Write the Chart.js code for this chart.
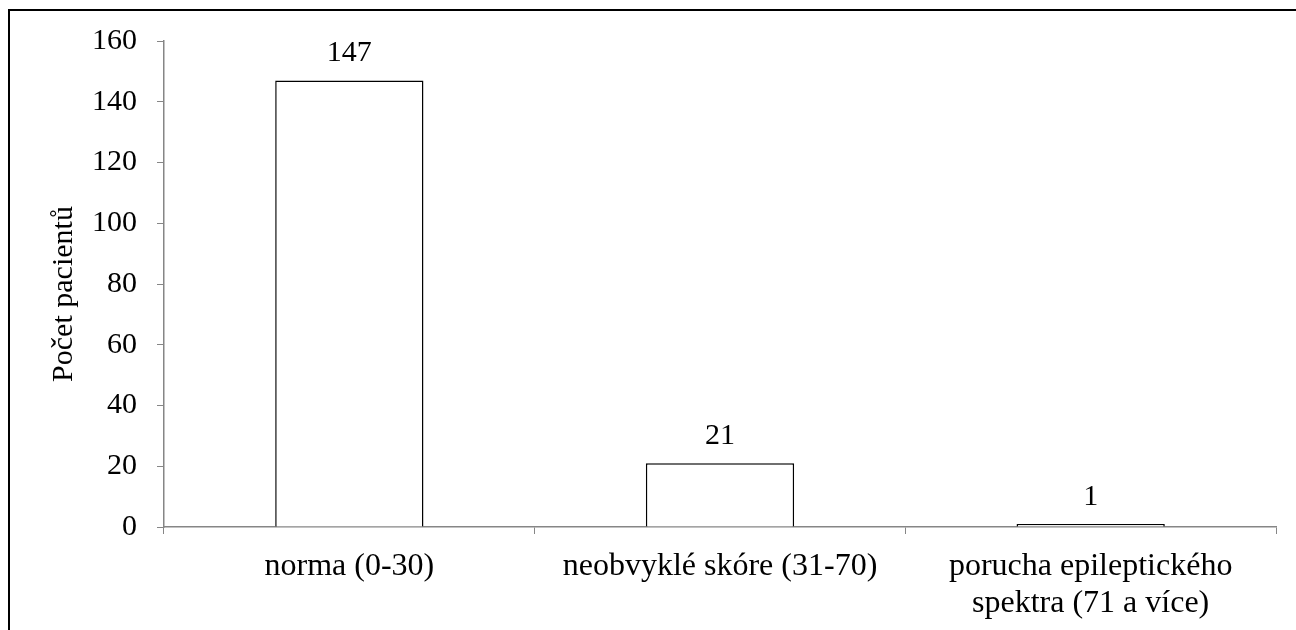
<!DOCTYPE html>
<html>
<head>
<meta charset="utf-8">
<script src="https://cdn.jsdelivr.net/npm/chart.js@4"></script>
<style>
  html, body { margin: 0; padding: 0; background: #fff; overflow: hidden; }
  #frame { position: absolute; left: 8px; top: 9px; width: 2000px; height: 2000px; border: 2px solid #000; }
  #wrap { position: absolute; left: 0; top: 0; width: 1296px; height: 630px; }
</style>
</head>
<body>
<div id="frame"></div>
<div id="wrap"><canvas id="myChart" width="1296" height="630"></canvas></div>
<script>
// categories and values
var categories = [
	'norma (0-30)',
	'neobvyklé skóre (31-70)',
	['porucha epileptického', 'spektra (71 a více)']
];
var pacienti = [147, 21, 1];
var yTicks = [0, 20, 40, 60, 80, 100, 120, 140, 160];
var yTitle = 'Počet pacientů';

var serif = '"Liberation Serif", "Times New Roman", serif';
var axisGray = '#868686';

// value labels above bars + y title (a bit below centre, like the original)
var extras = {
	id: 'extras',
	afterDatasetsDraw: function(chart) {
		var ctx = chart.ctx;
		var meta = chart.getDatasetMeta(0);
		ctx.save();
		ctx.font = '30px ' + serif;
		ctx.fillStyle = '#000';
		ctx.textAlign = 'center';
		ctx.textBaseline = 'alphabetic';
		meta.data.forEach(function(bar, i) {
			ctx.fillText(String(pacienti[i]), bar.x, bar.y - 19);
		});
		var a = chart.chartArea;
		ctx.translate(64, (a.top + a.bottom) / 2 + 10);
		ctx.rotate(-Math.PI / 2);
		ctx.textBaseline = 'middle';
		ctx.fillText(yTitle, 0, 0);
		ctx.restore();
	}
};

var ctx = document.getElementById('myChart');
var myChart = new Chart(ctx, {
	type: 'bar',
	data: {
		labels: categories,
		datasets: [{
			data: pacienti,
			backgroundColor: '#ffffff',
			borderColor: '#000000',
			borderWidth: 1.5,
			categoryPercentage: 1.0,
			barPercentage: 0.4
		}]
	},
	options: {
		responsive: false,
		animation: false,
		layout: { padding: { top: 41, right: 20, left: 0, bottom: 0 } },
		plugins: {
			legend: { display: false },
			tooltip: { enabled: false }
		},
		scales: {
			x: {
				grid: { drawOnChartArea: false, drawTicks: true, tickLength: 7, color: axisGray, offset: true },
				border: { color: axisGray, width: 1.5 },
				ticks: {
					color: '#000',
					font: { family: serif, size: 32, lineHeight: 1.15 },
					padding: 14,
					maxRotation: 0,
					autoSkip: false
				},
				afterFit: function(scale) { scale.height = 103; }
			},
			y: {
				min: 0,
				max: 160,
				afterBuildTicks: function(scale) {
					scale.ticks = yTicks.map(function(v) { return { value: v }; });
				},
				grid: { drawOnChartArea: false, drawTicks: true, tickLength: 7, color: axisGray },
				border: { color: axisGray, width: 1.5 },
				ticks: {
					color: '#000',
					font: { family: serif, size: 30 },
					padding: 20
				},
				afterFit: function(scale) { scale.width = 164; }
			}
		}
	},
	plugins: [extras]
});
</script>
</body>
</html>
